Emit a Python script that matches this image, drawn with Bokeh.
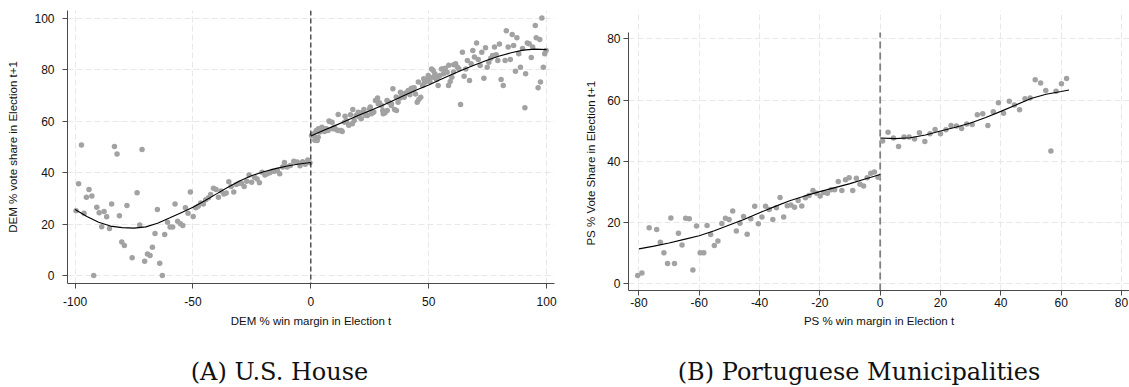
from bokeh.plotting import figure
from bokeh.models import Range1d, Span, Div, FixedTicker
from bokeh.layouts import row, column
from bokeh.embed import file_html
from bokeh.resources import INLINE

# ---------------- data: U.S. House ----------------
us_neg_x = [-99.6, -98.5, -97.3, -96.2, -95.2, -94.1, -92.9, -92.1, -90.8, -89.8,
            -88.7, -87.7, -86.6, -85.4, -84.5, -83.3, -82.2, -81.2, -80.2, -79.1,
            -78.0, -75.8, -73.7, -72.6, -71.6, -70.5, -69.3, -68.2, -67.2, -66.1,
            -65.1, -64.1, -63.0, -62.0, -60.8, -59.7, -58.6, -57.6, -56.5, -55.3,
            -54.3, -53.2, -52.1, -51.1, -49.9, -48.8, -47.8, -46.7, -45.6, -44.6,
            -43.4, -42.5, -41.3, -40.2, -39.2, -38.1, -36.9, -35.9, -34.8, -33.8,
            -32.7, -31.6, -30.4, -29.4, -28.3, -27.2, -26.2, -25.1, -23.9, -22.8,
            -21.8, -20.7, -19.5, -18.6, -17.4, -16.3, -15.3, -14.2, -13.2, -12.0,
            -11.2, -10.1, -8.7, -7.2, -5.8, -4.6, -3.5, -2.4, -1.3, -0.4]
us_neg_y = [25.3, 35.7, 50.8, 24.3, 30.5, 33.5, 31.0, 0.1, 26.6, 24.5,
            19.0, 25.0, 22.9, 18.4, 27.9, 50.2, 47.3, 23.3, 13.1, 11.8,
            27.3, 7.0, 32.2, 19.7, 49.0, 5.6, 8.5, 7.9, 11.1, 16.4,
            25.7, 4.9, 0.1, 16.0, 20.8, 18.9, 18.9, 27.9, 21.2, 20.2,
            19.5, 26.4, 24.3, 32.5, 23.0, 26.4, 27.0, 28.3, 27.9, 29.5,
            30.3, 31.6, 34.0, 33.5, 30.5, 32.9, 31.8, 32.1, 36.5, 34.7,
            32.5, 35.4, 35.9, 35.9, 34.7, 36.7, 39.1, 36.3, 38.3, 37.6,
            36.1, 40.2, 39.1, 39.6, 40.0, 40.6, 40.6, 41.0, 39.6, 42.2,
            44.0, 42.2, 42.8, 44.5, 44.2, 42.7, 44.3, 43.3, 45.0, 43.9]

us_pos_x = [0.3, 1.2, 2.0, 2.7, 3.1, 3.8, 4.8, 5.8, 6.6, 7.3,
            8.0, 9.0, 9.9, 10.7, 11.6, 12.3, 13.3, 14.3, 15.1, 16.1,
            16.8, 17.8, 18.4, 19.2, 20.1, 20.6, 21.6, 22.5, 23.3, 24.0,
            24.9, 25.7, 26.4, 27.4, 28.3, 29.1, 30.0, 30.7, 31.5, 32.4,
            33.1, 34.1, 34.8, 35.5, 36.3, 37.0, 37.9, 38.7, 39.6, 40.4,
            41.3, 42.0, 42.7, 43.5, 44.4, 45.1, 45.8, 46.6, 47.4, 48.1,
            48.9, 49.8, 50.5, 51.2, 51.9, 52.6, 53.3, 54.0, 54.7, 55.4,
            56.3, 57.0, 57.8, 58.4, 59.1, 59.8, 60.6, 61.4, 62.2, 62.8,
            63.5, 64.3, 65.0, 65.7, 66.4, 67.3, 68.0, 68.7, 69.4, 70.3,
            71.0, 71.8, 72.5, 73.4, 74.1, 74.8, 75.5, 76.3, 77.1, 77.9,
            78.6, 79.3, 80.0, 80.7, 81.6, 82.4, 82.9, 83.7, 84.6, 85.4,
            86.0, 86.8, 87.4, 88.2, 88.9, 89.8, 90.8, 91.1, 91.8, 92.6,
            93.5, 94.1, 95.2, 95.6, 96.4, 97.1, 97.4, 98.0, 98.6, 99.2,
            99.8,
            1.7, 2.3, 3.2, 4.7, 6.2, 7.7, 9.2, 11.5, 12.9, 14.5,
            16.1, 17.6, 19.8, 21.4, 23.2, 25.2, 26.7, 28.6, 30.5, 32.3,
            34.2, 36.2, 38.0, 39.8, 41.8, 43.8, 45.6, 47.9, 49.8, 51.9,
            53.9, 56.2, 58.5, 60.5]
us_pos_y = [54.5, 55.1, 53.4, 52.5, 53.8, 55.8, 56.8, 56.0, 57.1, 56.4,
            59.9, 59.6, 57.7, 56.8, 62.6, 56.4, 56.0, 59.6, 60.2, 58.6,
            62.5, 64.6, 60.3, 62.2, 63.5, 61.6, 63.3, 64.6, 62.9, 62.2,
            64.8, 62.9, 63.5, 68.1, 69.0, 67.2, 66.1, 62.9, 63.3, 64.2,
            67.4, 66.1, 72.6, 64.6, 64.2, 67.4, 69.0, 70.0, 69.3, 71.0,
            71.9, 70.3, 72.8, 71.9, 70.6, 67.4, 68.4, 69.3, 73.9, 74.9,
            75.4, 76.7, 75.4, 80.3, 77.1, 78.4, 76.2, 73.9, 77.8, 80.3,
            78.4, 80.6, 79.0, 73.9, 75.4, 77.1, 81.9, 82.3, 81.0, 80.3,
            66.5, 86.8, 77.5, 80.3, 83.6, 75.8, 82.3, 87.5, 84.9, 90.4,
            84.0, 81.6, 86.8, 76.7, 88.5, 81.0, 82.9, 84.5, 85.5, 88.8,
            85.8, 83.6, 90.0, 76.2, 73.9, 83.6, 95.1, 88.8, 84.0, 93.7,
            89.4, 79.4, 92.4, 86.2, 81.0, 88.2, 65.2, 78.4, 90.4, 90.1,
            84.7, 88.8, 97.2, 92.4, 73.0, 91.7, 75.2, 100.1, 81.0, 86.2,
            87.5,
            52.6, 56.4, 57.1, 57.7, 57.1, 60.1, 57.1, 56.4, 56.4, 61.9,
            58.4, 59.0, 62.3, 61.0, 62.3, 65.5, 63.6, 66.8, 64.2, 68.1,
            66.8, 69.4, 71.3, 70.7, 72.0, 73.0, 75.2, 76.5, 77.8, 79.7,
            77.2, 80.4, 81.7, 79.1]

us_fit_neg_x = [-100, -95, -90, -85, -80, -75, -70, -65, -60, -55, -50,
                -45, -40, -35, -30, -25, -20, -15, -10, -5, 0]
us_fit_neg_y = [25.7, 23.0, 20.8, 19.3, 18.7, 18.5, 19.0, 20.4, 22.4, 24.5, 26.6,
                29.1, 31.8, 34.5, 36.9, 38.9, 40.4, 41.6, 42.6, 43.4, 44.0]
us_fit_pos_x = [0, 5, 10, 15, 20, 25, 30, 35, 40, 45, 50,
                55, 60, 65, 70, 75, 80, 85, 90, 95, 100]
us_fit_pos_y = [54.3, 56.3, 58.2, 60.2, 62.2, 64.1, 66.0, 68.1, 70.2, 72.2, 74.1,
                76.2, 78.2, 80.2, 82.0, 83.8, 85.3, 86.6, 87.6, 88.0, 87.8]

# ---------------- data: Portuguese municipalities ----------------
pt_neg_x = [-80.4, -79.0, -76.6, -74.1, -72.9, -71.7, -70.5, -69.4, -68.2, -66.9,
            -65.7, -64.5, -63.3, -62.1, -60.9, -59.7, -58.5, -57.4, -56.2, -55.0,
            -53.8, -52.5, -51.3, -50.1, -48.9, -47.7, -46.5, -45.3, -44.1, -42.9,
            -41.6, -40.4, -39.2, -38.0, -36.8, -35.6, -34.4, -33.2, -32.0, -30.8,
            -29.6, -28.4, -27.2, -26.0, -24.8, -23.6, -22.3, -21.1, -19.9, -18.7,
            -17.5, -16.3, -15.1, -13.9, -12.7, -11.5, -10.3, -9.1, -7.9, -6.7,
            -5.5, -4.3, -3.1, -1.9, -0.7]
pt_neg_y = [2.7, 3.5, 18.3, 17.7, 13.6, 10.1, 6.6, 21.5, 6.6, 16.5,
            12.7, 21.4, 21.2, 4.5, 18.9, 10.1, 10.1, 19.0, 16.1, 12.5,
            14.0, 19.7, 21.4, 21.0, 23.8, 17.2, 19.8, 22.0, 16.2, 21.2,
            25.3, 19.6, 21.8, 25.3, 24.3, 21.0, 24.8, 28.2, 21.8, 25.5,
            25.7, 25.0, 27.2, 25.4, 28.1, 28.8, 30.5, 29.6, 28.7, 29.8,
            29.6, 30.7, 30.7, 33.4, 30.5, 34.0, 34.6, 30.5, 34.5, 32.5,
            31.9, 34.6, 36.1, 36.5, 34.8]
pt_pos_x = [0.8, 2.6, 4.4, 6.1, 7.9, 9.6, 11.4, 13.0, 14.8, 16.5,
            18.2, 20.0, 21.8, 23.5, 25.3, 27.0, 28.7, 30.5, 32.2, 34.0,
            35.7, 37.5, 39.2, 40.9, 42.8, 44.5, 46.2, 48.0, 49.7, 51.4,
            53.2, 54.9, 56.6, 58.3, 60.1, 61.8]
pt_pos_y = [46.6, 49.5, 47.6, 44.8, 47.9, 47.9, 47.3, 49.3, 46.5, 49.0,
            50.4, 49.0, 50.3, 51.7, 51.5, 50.7, 52.2, 52.0, 55.2, 55.5,
            51.7, 56.2, 59.1, 55.7, 59.6, 58.4, 56.8, 60.4, 60.7, 66.6,
            65.6, 63.1, 43.4, 62.9, 65.3, 67.0]

pt_fit_neg_x = [-80, -75, -70, -65, -60, -55, -50, -45, -40, -35, -30,
                -25, -20, -15, -10, -5, 0]
pt_fit_neg_y = [11.4, 12.3, 13.3, 14.5, 15.7, 17.3, 19.2, 21.1, 23.2, 25.2, 27.1,
                28.7, 30.1, 31.4, 32.7, 34.2, 35.7]
pt_fit_pos_x = [0, 5, 10, 15, 20, 25, 30, 35, 40, 45, 50, 55, 60, 62.6]
pt_fit_pos_y = [47.6, 47.4, 47.7, 48.6, 49.9, 51.1, 52.5, 54.3, 56.3, 58.4,
                60.5, 61.9, 62.8, 63.3]

us_xticks = [-100, -50, 0, 50, 100]
us_yticks = [0, 20, 40, 60, 80, 100]
pt_xticks = [-80, -60, -40, -20, 0, 20, 40, 60, 80]
pt_yticks = [0, 20, 40, 60, 80]

captions = ["(A) U.S. House", "(B) Portuguese Municipalities"]

# axis extents (data units)
US_X = (-103.22, 103.35)
US_Y = (-2.99, 102.99)
PT_X = (-83.45, 82.66)
PT_Y_AXIS = (-2.19, 82.06)
PT_Y_FRAME = (-2.19, 89.24)

SANS = "Liberation Sans"
AXC = "#4a4a4a"
DOT = "#a2a2a2"
NB = "\u00a0"


def style(p, xticks, yticks, xlab, ylab, xs, ys, xls, yls):
    p.outline_line_color = None
    p.background_fill_color = "white"
    p.border_fill_color = "white"
    p.xaxis.ticker = FixedTicker(ticks=xticks)
    p.yaxis.ticker = FixedTicker(ticks=yticks)
    p.xaxis.major_label_overrides = {t: str(t) for t in xticks}
    p.yaxis.major_label_overrides = {t: str(t) for t in yticks}
    p.xaxis.axis_label = xlab
    p.yaxis.axis_label = ylab
    for ax in (p.xaxis[0], p.yaxis[0]):
        ax.axis_line_color = AXC
        ax.axis_line_width = 1
        ax.major_tick_line_color = AXC
        ax.major_tick_in = 0
        ax.major_tick_out = 5
        ax.minor_tick_line_color = None
        ax.major_label_text_font = SANS
        ax.major_label_text_font_size = "12px"
        ax.major_label_text_color = "#111111"
        ax.axis_label_text_font = SANS
        ax.axis_label_text_font_size = "11.5px"
        ax.axis_label_text_font_style = "normal"
        ax.axis_label_text_color = "#111111"
    p.xaxis.major_label_standoff = xs
    p.yaxis.major_label_standoff = ys
    p.xaxis.axis_label_standoff = xls
    p.yaxis.axis_label_standoff = yls
    for g in (p.xgrid[0], p.ygrid[0]):
        g.grid_line_color = "#e8e8e8"
        g.grid_line_dash = "6 3"
        g.grid_line_width = 1


# ---------------- panel A ----------------
p1 = figure(frame_width=487, frame_height=273,
            x_range=Range1d(*US_X), y_range=Range1d(*US_Y),
            min_border_left=67, min_border_right=21, min_border_top=10,
            min_border_bottom=57, output_backend="svg", toolbar_location=None)
style(p1, us_xticks, us_yticks, "DEM % win margin in Election t",
      "DEM % vote share in Election t+1", 8, 8, 6, 12)
p1.add_layout(Span(location=0, dimension="height", line_color="black",
                   line_width=1, line_dash="5 3"))
p1.scatter(us_neg_x, us_neg_y, size=5.5, fill_color=DOT, line_color=None)
p1.scatter(us_pos_x, us_pos_y, size=5.5, fill_color=DOT, line_color=None)
p1.line(us_fit_neg_x, us_fit_neg_y, line_color="black", line_width=1.1)
p1.line(us_fit_pos_x, us_fit_pos_y, line_color="black", line_width=1.1)

# ---------------- panel B ----------------
p2 = figure(frame_width=501, frame_height=280,
            x_range=Range1d(*PT_X), y_range=Range1d(*PT_Y_FRAME),
            min_border_left=53, min_border_right=0, min_border_top=10,
            min_border_bottom=50, output_backend="svg", toolbar_location=None)
style(p2, pt_xticks, pt_yticks, "PS % win margin in Election t",
      "PS % Vote Share in Election t+1" + NB * 8, 2, 3, 5, 7)
p2.yaxis.bounds = PT_Y_AXIS
p2.xgrid.bounds = PT_Y_AXIS
p2.segment(x0=[0], y0=[PT_Y_AXIS[0]], x1=[0], y1=[PT_Y_AXIS[1]],
           line_color="#808080", line_width=1.8, line_dash="7 4")
p2.scatter(pt_neg_x, pt_neg_y, size=5.5, fill_color=DOT, line_color=None)
p2.scatter(pt_pos_x, pt_pos_y, size=5.5, fill_color=DOT, line_color=None)
p2.line(pt_fit_neg_x, pt_fit_neg_y, line_color="black", line_width=1.1)
p2.line(pt_fit_pos_x, pt_fit_pos_y, line_color="black", line_width=1.1)

# ---------------- captions ----------------
cap_css = ("font-family:'DejaVu Serif',serif; font-size:24px; line-height:28px;"
           " color:#111111; text-align:center; padding-top:18px;"
           " white-space:nowrap; margin:0; display:block;")
div1 = Div(text=f'<div style="{cap_css} width:559px;">{captions[0]}</div>',
           width=559, height=47, margin=0)
div2 = Div(text=f'<div style="{cap_css} width:540px; margin-left:30px;">'
                f'{captions[1]}</div>',
           width=570, height=47, margin=0)

layout = column(row(p1, p2), row(div1, div2))
open("out.html", "w").write(file_html(layout, INLINE))
